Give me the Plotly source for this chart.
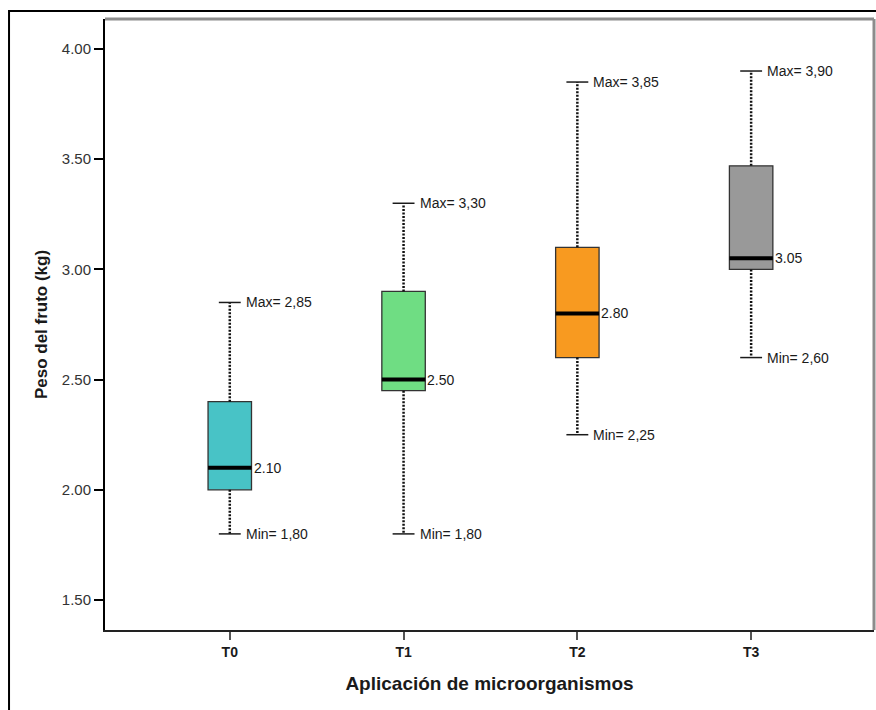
import plotly.graph_objects as go

# Fruit weight by microorganism treatment (box summary statistics)
categories = ["T0", "T1", "T2", "T3"]
minimum = [1.80, 1.80, 2.25, 2.60]
q1 = [2.00, 2.45, 2.60, 3.00]
median = [2.10, 2.50, 2.80, 3.05]
q3 = [2.40, 2.90, 3.10, 3.47]
maximum = [2.85, 3.30, 3.85, 3.90]
box_colors = ["#48C3C6", "#6FDD83", "#F89A20", "#999999"]
y_ticks = [1.50, 2.00, 2.50, 3.00, 3.50, 4.00]

FONT = "Liberation Sans, Arial, sans-serif"
BOX_W = 0.25
CAP_W = 0.063

xs = list(range(len(categories)))
fig = go.Figure()

# dotted whiskers and end caps
for i in xs:
    for a, b in ((q3[i], maximum[i]), (q1[i], minimum[i])):
        fig.add_trace(go.Scatter(
            x=[i, i], y=[a, b], mode="lines",
            line=dict(color="#111111", width=2.5, dash="2px,1.5px"),
            showlegend=False, hoverinfo="skip"))
    for v in (maximum[i], minimum[i]):
        fig.add_trace(go.Scatter(
            x=[i - CAP_W, i + CAP_W], y=[v, v], mode="lines",
            line=dict(color="#1a1a1a", width=1.5),
            showlegend=False, hoverinfo="skip"))

# interquartile boxes
fig.add_trace(go.Bar(
    x=xs, base=q1, y=[b - a for a, b in zip(q1, q3)], width=BOX_W,
    marker=dict(color=box_colors, line=dict(color="#333333", width=1.3)),
    showlegend=False, hoverinfo="skip"))

# median bars
for i in xs:
    fig.add_trace(go.Scatter(
        x=[i - BOX_W / 2, i + BOX_W / 2], y=[median[i], median[i]], mode="lines",
        line=dict(color="black", width=4),
        showlegend=False, hoverinfo="skip"))

label_font = dict(family=FONT, size=14, color="#1a1a1a")
annotations = []
for i in xs:
    annotations.append(dict(
        x=i + CAP_W, y=maximum[i], xref="x", yref="y",
        text=f"Max= {maximum[i]:.2f}".replace(".", ","),
        showarrow=False, xanchor="left", yanchor="middle", xshift=3,
        font=label_font))
    annotations.append(dict(
        x=i + CAP_W, y=minimum[i], xref="x", yref="y",
        text=f"Min= {minimum[i]:.2f}".replace(".", ","),
        showarrow=False, xanchor="left", yanchor="middle", xshift=3,
        font=label_font))
    annotations.append(dict(
        x=i + BOX_W / 2, y=median[i], xref="x", yref="y",
        text=f"{median[i]:.2f}",
        showarrow=False, xanchor="left", yanchor="middle", xshift=0,
        font=label_font))

shapes = [
    # outer frame
    dict(type="rect", xref="paper", yref="paper",
         x0=-0.1248, x1=1.2, y0=-0.3, y1=1.0131,
         line=dict(color="black", width=2), layer="below"),
    # top and right edges of the plotting area
    dict(type="line", xref="paper", yref="paper", x0=0, x1=1, y0=1, y1=1,
         line=dict(color="#8c8c8c", width=3)),
    dict(type="line", xref="paper", yref="paper", x0=1, x1=1, y0=0, y1=1,
         line=dict(color="#8c8c8c", width=3)),
]

fig.update_layout(
    width=876, height=710,
    margin=dict(l=105, r=2, t=19, b=80),
    paper_bgcolor="white", plot_bgcolor="white",
    font=dict(family=FONT, color="#1a1a1a"),
    annotations=annotations, shapes=shapes,
    xaxis=dict(
        range=[-0.718, 3.707], tickvals=xs, ticktext=categories,
        showgrid=False, zeroline=False,
        showline=True, linecolor="#222222", linewidth=2,
        ticks="outside", ticklen=8, tickwidth=1.5, tickcolor="#555555",
        tickfont=dict(family=FONT, size=14, weight="bold", color="#1a1a1a"),
        title=dict(text="Aplicación de microorganismos", standoff=18,
                   font=dict(family=FONT, size=19, weight="bold", color="#1a1a1a")),
    ),
    yaxis=dict(
        range=[1.364, 4.136], tickvals=y_ticks, tickformat=".2f",
        showgrid=False, zeroline=False,
        showline=True, linecolor="black", linewidth=2,
        ticks="outside", ticklen=9, tickwidth=1.5, tickcolor="black",
        tickfont=dict(family=FONT, size=15, color="#333333"),
        title=dict(text="Peso del fruto (kg)", standoff=10,
                   font=dict(family=FONT, size=17, weight="bold", color="#1a1a1a")),
    ),
)

fig.write_html("out.html")
